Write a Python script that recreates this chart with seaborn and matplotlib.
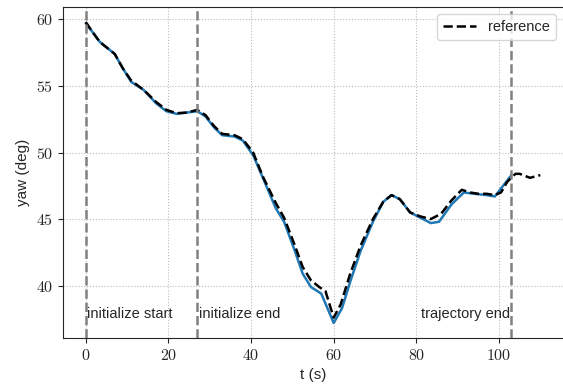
import pandas as pd
import seaborn as sns
import matplotlib.pyplot as plt
from matplotlib.ticker import FuncFormatter

# reference yaw trajectory (dashed)
t_ref = [0, 1.5, 3.4, 5, 7, 9, 11, 14, 17, 19.5, 22, 24.5, 27, 29, 31, 33, 36, 38,
         40.5, 43, 46, 48, 50.5, 52.5, 54.5, 56.5, 58, 60, 61.7, 64, 66.5, 69.5, 72,
         74, 76, 78.5, 81, 83.5, 86, 88.5, 91, 93, 95, 97, 99, 100.5, 102, 104, 105,
         107.5, 110]
yaw_ref = [59.8, 59.1, 58.3, 57.9, 57.4, 56.3, 55.4, 54.7, 53.8, 53.2, 52.95, 53.0,
           53.2, 52.8, 52.0, 51.4, 51.3, 51.0, 50.0, 48.1, 46.2, 45.1, 43.1, 41.4,
           40.4, 39.9, 39.6, 37.6, 38.6, 40.9, 43.0, 45.0, 46.3, 46.8, 46.5, 45.5,
           45.2, 45.0, 45.4, 46.4, 47.2, 47.0, 46.9, 46.9, 46.8, 47.0, 47.8, 48.4,
           48.4, 48.1, 48.3]

# measured yaw (solid)
t_act = [0, 1.5, 3.4, 5, 7, 9, 11, 14, 17, 19.5, 22, 24.5, 27, 29, 31, 33, 36, 38,
         40.5, 43, 46, 48, 50.5, 52.5, 54.5, 56.5, 57, 60, 62, 64, 66.5, 69.5, 72,
         74, 76, 78.5, 81, 83.5, 85.5, 88.5, 91.5, 94, 97, 99, 101, 103]
yaw_act = [59.7, 59.1, 58.3, 57.9, 57.4, 56.3, 55.3, 54.7, 53.7, 53.1, 52.9, 53.0,
           53.1, 52.7, 51.9, 51.3, 51.2, 50.9, 49.8, 48.0, 45.8, 44.8, 42.7, 40.9,
           39.9, 39.5, 39.4, 37.2, 38.3, 40.3, 42.6, 44.8, 46.3, 46.8, 46.5, 45.5,
           45.1, 44.7, 44.8, 46.1, 47.0, 46.9, 46.8, 46.7, 47.5, 48.3]

# events
event_t = [0, 27, 103]
event_labels = ['initialize start', 'initialize end', 'trajectory end']

sns.set_style('ticks', {'axes.grid': True, 'grid.linestyle': ':', 'grid.color': '#bbbbbb'})
plt.rcParams['font.family'] = ['Liberation Sans', 'DejaVu Sans']
plt.rcParams['mathtext.fontset'] = 'cm'

fig = plt.figure(figsize=(5.63, 3.85), dpi=100)
ax = fig.add_axes([0.112, 0.122, 0.888, 0.86])

df_act = pd.DataFrame({'t': t_act, 'yaw': yaw_act})
df_ref = pd.DataFrame({'t': t_ref, 'yaw': yaw_ref})
sns.lineplot(data=df_act, x='t', y='yaw', ax=ax, color='#1f77b4', linewidth=1.8)
sns.lineplot(data=df_ref, x='t', y='yaw', ax=ax, color='black', linestyle='--',
             linewidth=1.8, label='reference')

for x, lab in zip(event_t, event_labels):
    ax.axvline(x, color='gray', linestyle='--', linewidth=1.8, zorder=3)
    if lab == 'trajectory end':
        ax.text(x - 0.3, 37.9, lab, ha='right', va='center', fontsize=10.5)
    else:
        ax.text(x + 0.4, 37.9, lab, ha='left', va='center', fontsize=10.5)

ax.set_xlim(-5.5, 115.5)
ax.set_ylim(36.07, 60.93)
ax.set_xticks([0, 20, 40, 60, 80, 100])
ax.set_yticks([40, 45, 50, 55, 60])
cm_fmt = FuncFormatter(lambda v, pos: f'${v:g}$')
ax.xaxis.set_major_formatter(cm_fmt)
ax.yaxis.set_major_formatter(cm_fmt)
ax.tick_params(labelsize=11.5)
ax.set_xlabel('t (s)', fontsize=11)
ax.set_ylabel('yaw (deg)', fontsize=11)
ax.spines['right'].set_visible(False)
ax.legend(loc='upper right', fontsize=10.5, handlelength=2.3)

fig.savefig('out.png', dpi=100)
